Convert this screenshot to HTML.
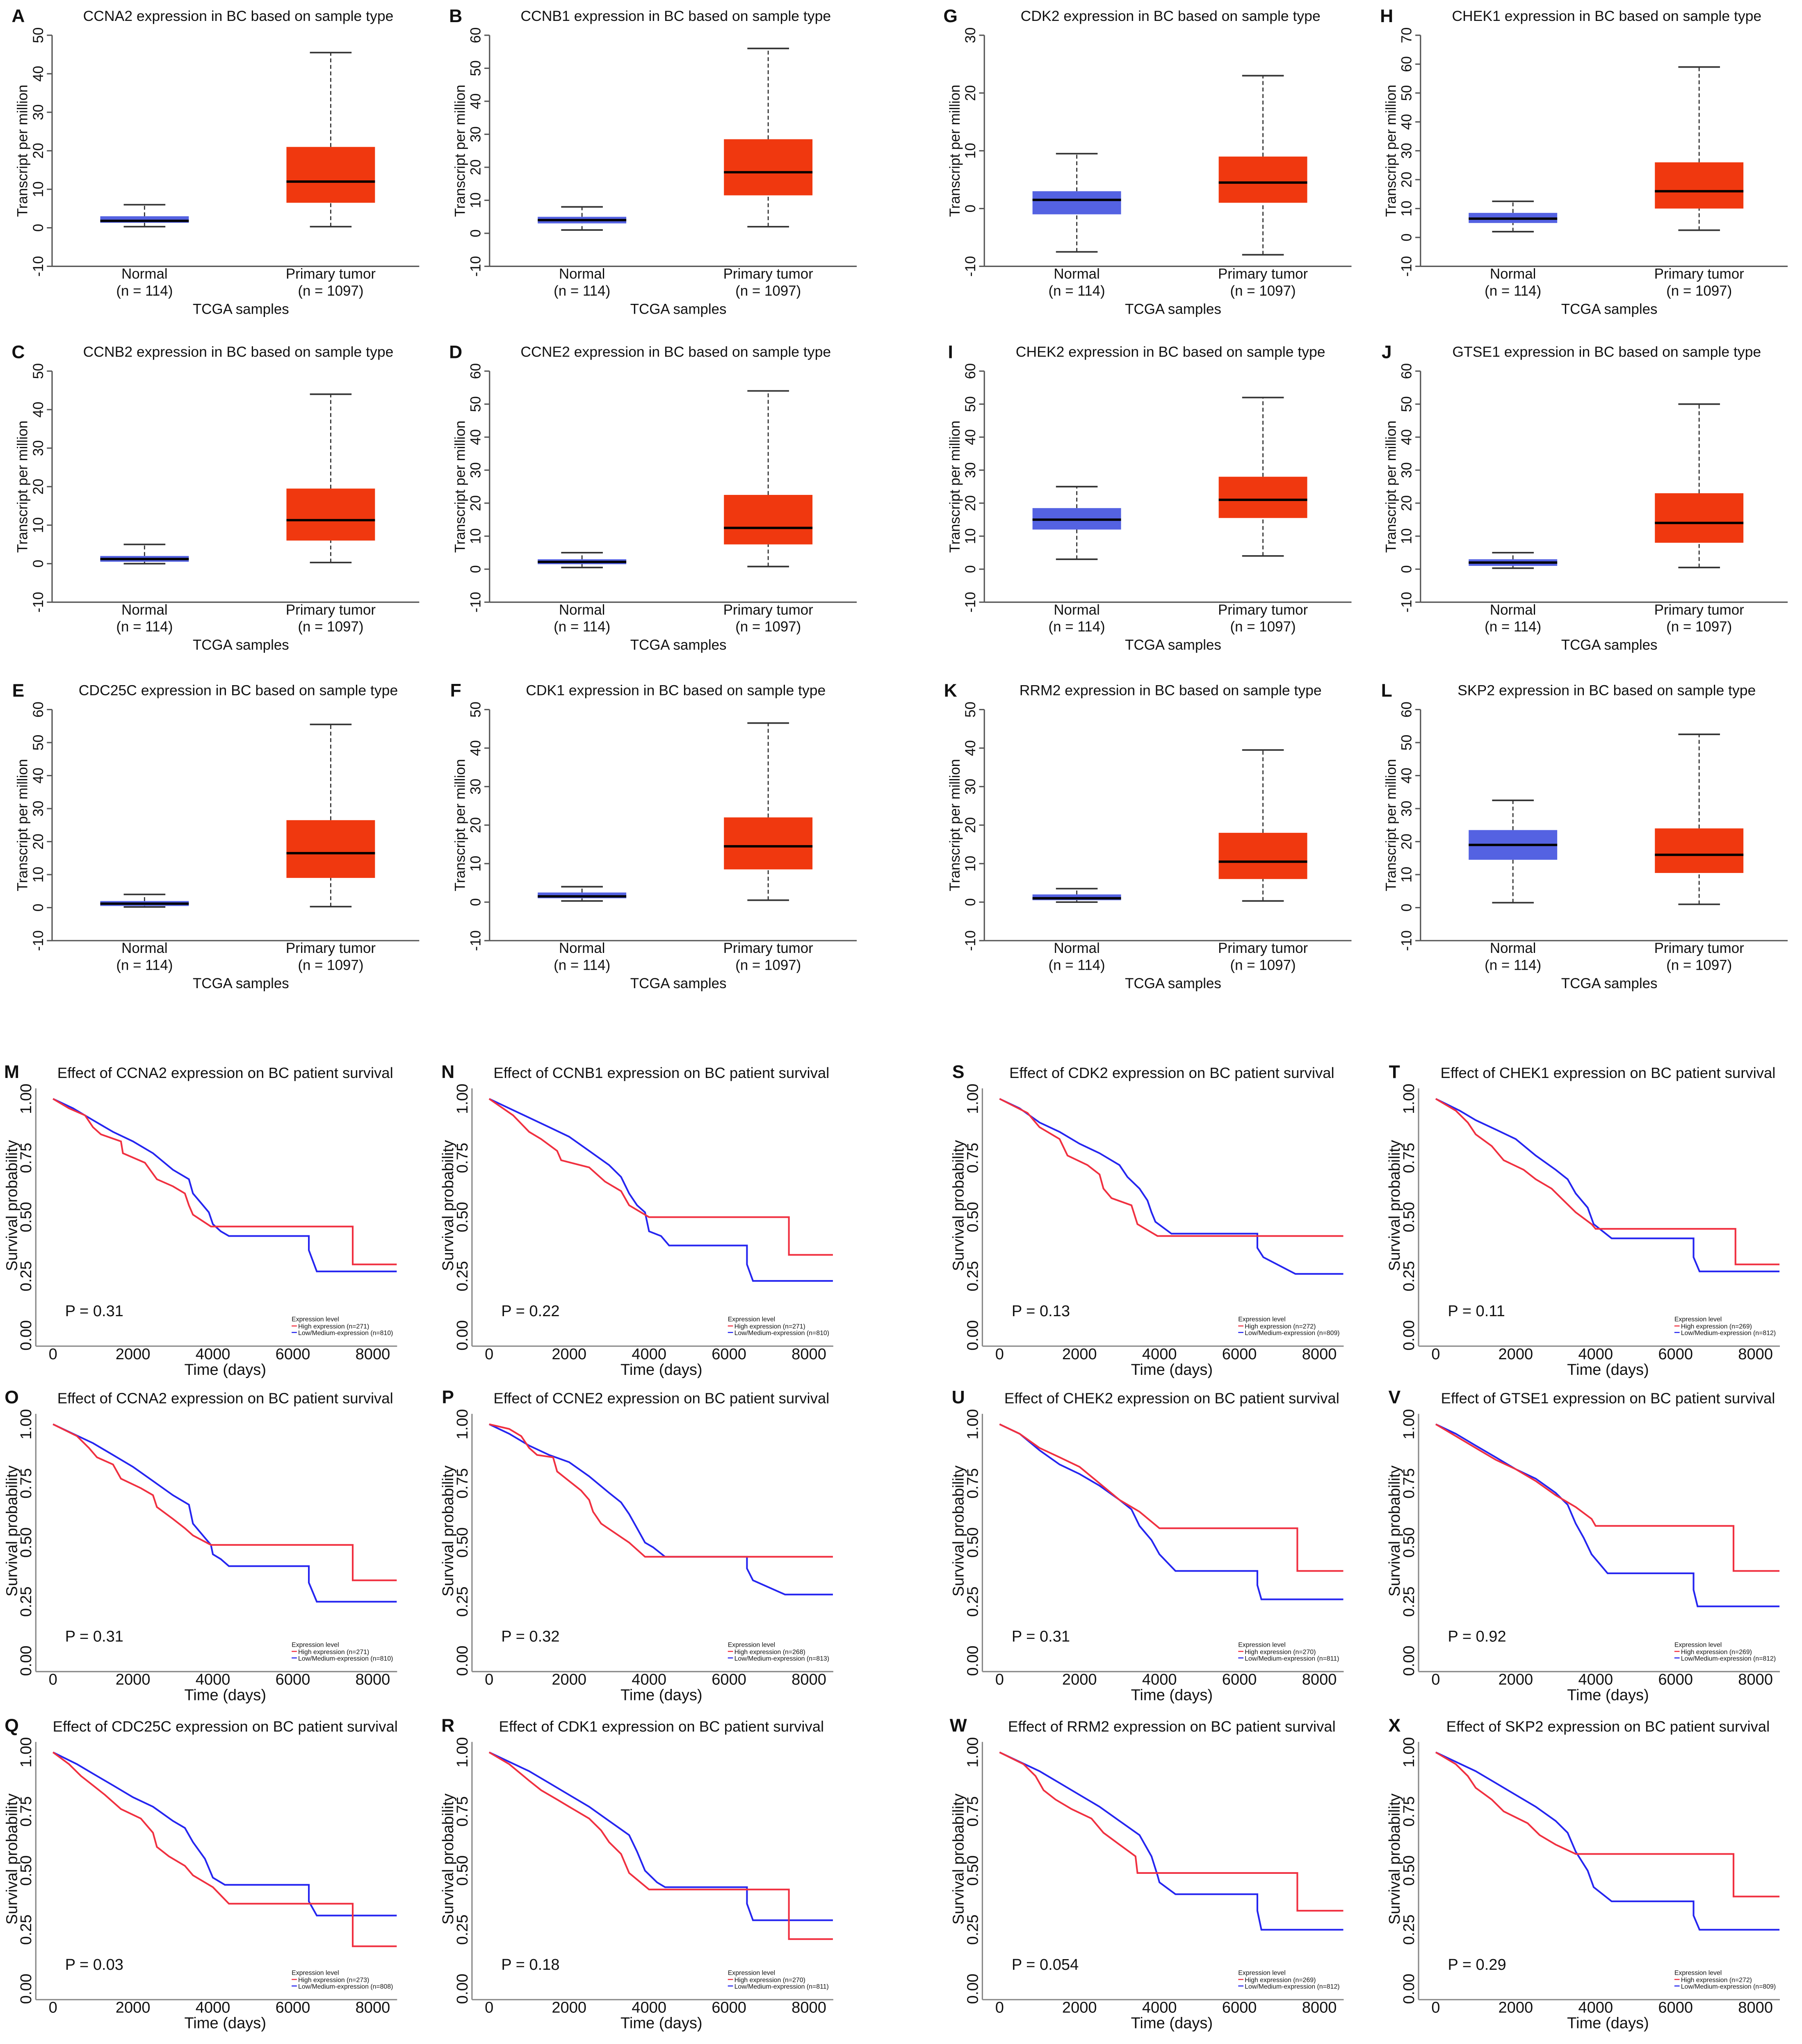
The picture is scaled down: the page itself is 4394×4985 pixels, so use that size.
<!DOCTYPE html>
<html><head><meta charset="utf-8"><style>
html,body{margin:0;padding:0;background:#fff;}
svg{display:block;}
text{font-family:"Liberation Sans",sans-serif;fill:#111;}
</style></head><body>
<svg id="fig" xmlns="http://www.w3.org/2000/svg" width="4394" height="4985" viewBox="0 0 1384 1570">
<rect width="1384" height="1570" fill="#fff"/>
</svg>
<script>
// ===== Box plot data (order: A,B,G,H / C,D,I,J / E,F,K,L) =====
const boxLetters = ["A","B","G","H","C","D","I","J","E","F","K","L"];
const boxGenes = ["CCNA2","CCNB1","CDK2","CHEK1","CCNB2","CCNE2","CHEK2","GTSE1","CDC25C","CDK1","RRM2","SKP2"];
const boxYMax = [50,60,30,70,50,60,60,60,60,50,50,60];
// [whiskerLow, q1, median, q3, whiskerHigh]
const boxNormal = [[0.3,1.3,1.8,3,6],[1,3,4,5,8],[-7.5,-1,1.5,3,9.5],[2,5,6.5,8.5,12.5],
  [0,0.5,1.2,2,5],[0.5,1.5,2.2,3,5],[3,12,15,18.5,25],[0.3,1,2,3,5],
  [0.2,0.5,1.2,2,4],[0.3,1,1.5,2.5,4],[0,0.5,1,2,3.5],[1.5,14.5,19,23.5,32.5]];
const boxTumor = [[0.3,6.5,12,21,45.5],[2,11.5,18.5,28.5,56],[-8,1,4.5,9,23],[2.5,10,16,26,59],
  [0.3,6,11.3,19.5,44],[0.8,7.5,12.5,22.5,54],[4,15.5,21,28,52],[0.5,8,14,23,50],
  [0.3,9,16.5,26.5,55.5],[0.5,8.5,14.5,22,46.5],[0.3,6,10.5,18,39.5],[1,10.5,16,24,52.5]];
const boxGroups = ["Normal","Primary tumor"];
const boxGroupN = ["(n = 114)","(n = 1097)"];

// ===== Survival data (order: M,N,S,T / O,P,U,V / Q,R,W,X) =====
const survLetters = ["M","N","S","T","O","P","U","V","Q","R","W","X"];
const survGenes = ["CCNA2","CCNB1","CDK2","CHEK1","CCNA2","CCNE2","CHEK2","GTSE1","CDC25C","CDK1","RRM2","SKP2"];
const survP = ["0.31","0.22","0.13","0.11","0.31","0.32","0.31","0.92","0.03","0.18","0.054","0.29"];
const survHighN = [271,271,272,269,271,268,270,269,273,270,269,272];
const survLowN = [810,810,809,812,810,813,811,812,808,811,812,809];
const survXTicks = [0,2000,4000,6000,8000];
const survYTicks = ["0.00","0.25","0.50","0.75","1.00"];
const survEnd = 8600;
const survHighT = [
 [0,400,800,1000,1200,1700,1750,2300,2600,3000,3300,3400,3500,3950,7500],
 [0,600,1000,1300,1700,1800,2500,2900,3300,3500,4000,7500],
 [0,700,1000,1500,1700,2200,2500,2600,2800,3300,3450,3950],
 [0,500,800,1000,1400,1700,2200,2500,2900,3200,3500,3900,4000,7500],
 [0,600,900,1100,1500,1700,2200,2500,2600,3000,3300,3500,3950,7500],
 [0,500,800,1000,1200,1600,1700,2000,2300,2500,2600,2800,3500,3900],
 [0,500,1000,1500,2000,2500,3000,3500,4000,7450],
 [0,500,1000,1500,2000,2500,3000,3500,3900,4000,7450],
 [0,400,700,1000,1300,1700,2200,2500,2600,2900,3300,3500,4000,4400,7500],
 [0,500,1000,1300,1700,2000,2500,2800,3000,3300,3500,4000,7500],
 [0,600,900,1100,1400,1800,2300,2600,3000,3400,3450,7450],
 [0,500,800,1000,1400,1700,2300,2600,3000,3500,7450]];
const survHighS = [
 [1,0.96,0.93,0.88,0.85,0.82,0.77,0.73,0.66,0.63,0.60,0.55,0.51,0.46,0.30],
 [1,0.93,0.86,0.83,0.78,0.74,0.71,0.65,0.61,0.55,0.50,0.34],
 [1,0.94,0.88,0.83,0.76,0.72,0.68,0.62,0.58,0.55,0.47,0.42],
 [1,0.95,0.90,0.85,0.80,0.74,0.70,0.66,0.62,0.57,0.52,0.47,0.45,0.30],
 [1,0.95,0.90,0.86,0.83,0.77,0.73,0.70,0.65,0.60,0.56,0.53,0.49,0.34],
 [1,0.98,0.95,0.90,0.87,0.86,0.80,0.76,0.72,0.68,0.63,0.58,0.50,0.44],
 [1,0.96,0.90,0.86,0.82,0.75,0.68,0.63,0.56,0.38],
 [1,0.95,0.90,0.85,0.81,0.76,0.70,0.65,0.60,0.57,0.38],
 [1,0.95,0.90,0.86,0.82,0.76,0.72,0.66,0.60,0.56,0.52,0.48,0.43,0.36,0.18],
 [1,0.95,0.88,0.84,0.80,0.77,0.72,0.67,0.62,0.57,0.49,0.42,0.21],
 [1,0.95,0.90,0.84,0.80,0.76,0.72,0.66,0.61,0.56,0.49,0.33],
 [1,0.95,0.90,0.85,0.80,0.75,0.70,0.65,0.61,0.57,0.39]];
const survLowT = [
 [0,500,1000,1500,2000,2500,3000,3400,3500,3700,3900,4000,4200,4400,6400,6600],
 [0,500,1000,1500,2000,2500,3000,3300,3500,3700,3900,4000,4300,4500,6450,6600],
 [0,500,1000,1500,2000,2500,3000,3200,3500,3700,3800,3900,4300,6450,6600,7400],
 [0,600,1000,1500,2000,2500,3000,3300,3500,3800,3950,4400,6450,6600],
 [0,500,1000,1500,2000,2500,3000,3400,3500,3700,3950,4000,4200,4400,6400,6600],
 [0,500,1000,1500,2000,2500,3000,3300,3500,3700,3900,4100,4400,6450,6600,7400],
 [0,500,1000,1500,2000,2500,3000,3300,3500,3800,4000,4400,6450,6550],
 [0,500,1000,1500,2000,2500,3000,3300,3500,3700,3900,4000,4300,6450,6550],
 [0,600,1000,1500,2000,2500,3000,3300,3500,3800,4000,4300,6400,6600],
 [0,500,1000,1500,2000,2500,3000,3500,3700,3900,4200,4400,6450,6600],
 [0,500,1000,1500,2000,2500,3000,3500,3800,3950,4000,4400,6450,6550],
 [0,500,1000,1500,2000,2500,3000,3300,3500,3800,3950,4400,6450,6600]];
const survLowS = [
 [1,0.96,0.91,0.86,0.82,0.77,0.70,0.66,0.60,0.56,0.52,0.47,0.44,0.42,0.36,0.27],
 [1,0.96,0.92,0.88,0.84,0.78,0.72,0.67,0.60,0.55,0.52,0.44,0.42,0.38,0.30,0.23],
 [1,0.96,0.90,0.86,0.81,0.77,0.72,0.67,0.62,0.57,0.52,0.48,0.43,0.37,0.33,0.26],
 [1,0.95,0.91,0.87,0.83,0.76,0.70,0.66,0.60,0.54,0.47,0.41,0.33,0.27],
 [1,0.96,0.92,0.87,0.82,0.76,0.70,0.66,0.58,0.54,0.49,0.45,0.43,0.40,0.33,0.25],
 [1,0.96,0.91,0.87,0.84,0.78,0.71,0.67,0.62,0.56,0.50,0.48,0.44,0.39,0.34,0.28],
 [1,0.96,0.89,0.83,0.79,0.74,0.68,0.64,0.57,0.51,0.45,0.38,0.32,0.26],
 [1,0.96,0.91,0.86,0.81,0.77,0.71,0.66,0.58,0.52,0.45,0.43,0.37,0.30,0.23],
 [1,0.95,0.91,0.86,0.81,0.77,0.71,0.68,0.62,0.55,0.47,0.44,0.37,0.31],
 [1,0.96,0.92,0.87,0.82,0.77,0.71,0.65,0.58,0.50,0.45,0.43,0.36,0.29],
 [1,0.96,0.92,0.87,0.82,0.77,0.71,0.65,0.56,0.48,0.45,0.40,0.33,0.25],
 [1,0.96,0.92,0.87,0.82,0.77,0.71,0.66,0.58,0.50,0.43,0.37,0.31,0.25]];

const NS = "http://www.w3.org/2000/svg";
const svg = document.getElementById("fig");
function el(tag, attrs, parent, txt){
  const e = document.createElementNS(NS, tag);
  for (const k in attrs) e.setAttribute(k, attrs[k]);
  if (txt !== undefined) e.textContent = txt;
  (parent || svg).appendChild(e);
  return e;
}

// ---------- Box plots ----------
const boxColDx = [0,336,716,1051];
const boxRowDy = [0,258,518];
boxGenes.forEach((gene, i) => {
  const ox = boxColDx[i % 4], oy = boxRowDy[Math.floor(i / 4)];
  const g = el("g", {transform:`translate(${ox},${oy})`});
  
  
  const ymax = boxYMax[i], yTop = 27, yBot = 204.5, axX = 40;
  const Y = v => yBot - (v + 10) / (ymax + 10) * (yBot - yTop);
  const lt = el("text", {x:14, y:17, "font-size":14, "font-weight":"bold", "text-anchor":"middle"}, g, boxLetters[i]);
  
  
  const tt = el("text", {x:183, y:16, "font-size":11.2, "text-anchor":"middle"}, g, gene + " expression in BC based on sample type");
  
  
  const ya = el("line", {x1:axX, y1:Y(ymax), x2:axX, y2:yBot, stroke:"#555", "stroke-width":1}, g);
  
  
  const xa = el("line", {x1:axX, y1:yBot, x2:322, y2:yBot, stroke:"#555", "stroke-width":1}, g);
  
  
  for (let v = -10; v <= ymax; v += 10) {
    const y = Y(v);
    el("line", {x1:axX-4, y1:y, x2:axX, y2:y, stroke:"#555", "stroke-width":1}, g);
    const t = el("text", {x:0, y:0, "font-size":11, "text-anchor":"middle", transform:`translate(33,${y}) rotate(-90)`}, g, String(v));
    
    
  }
  const yl = el("text", {x:0, y:0, "font-size":11, "text-anchor":"middle", transform:`translate(21,${Y((ymax-10)/2)}) rotate(-90)`}, g, "Transcript per million");
  
  
  const centers = [111, 254];
  const sets = [boxNormal[i], boxTumor[i]];
  const fills = ["#5462e2", "#f0380f"];
  sets.forEach((d, k) => {
    const cx = centers[k];
    const bg = el("g", {}, g);
    
    
    el("line", {x1:cx, y1:Y(d[0]), x2:cx, y2:Y(d[1]), stroke:"#333", "stroke-dasharray":"3,2", "stroke-width":0.9}, bg);
    el("line", {x1:cx, y1:Y(d[3]), x2:cx, y2:Y(d[4]), stroke:"#333", "stroke-dasharray":"3,2", "stroke-width":0.9}, bg);
    el("line", {x1:cx-16, y1:Y(d[0]), x2:cx+16, y2:Y(d[0]), stroke:"#333", "stroke-width":1.2}, bg);
    el("line", {x1:cx-16, y1:Y(d[4]), x2:cx+16, y2:Y(d[4]), stroke:"#333", "stroke-width":1.2}, bg);
    el("rect", {x:cx-34, y:Y(d[3]), width:68, height:Math.max(1.5, Y(d[1]) - Y(d[3])), fill:fills[k]}, bg);
    el("line", {x1:cx-34, y1:Y(d[2]), x2:cx+34, y2:Y(d[2]), stroke:"#000", "stroke-width":1.8}, bg);
    const l1 = el("text", {x:cx, y:214, "font-size":11, "text-anchor":"middle"}, g, boxGroups[k]);
    
    
    const l2 = el("text", {x:cx, y:227, "font-size":11, "text-anchor":"middle"}, g, boxGroupN[k]);
    
    
  });
  const xt = el("text", {x:185, y:241, "font-size":11, "text-anchor":"middle"}, g, "TCGA samples");
  
  
});

// ---------- Survival plots ----------
const survColDx = [0,335,727,1062];
const survRowDy = [0,250,502];
survGenes.forEach((gene, i) => {
  const ox = survColDx[i % 4], oy = survRowDy[Math.floor(i / 4)];
  const g = el("g", {transform:`translate(${ox},${oy})`});
  
  
  const X = t => 40.7 + t * 0.03070;
  const Y = s => 1025.7 - s * 181.7;
  const lt = el("text", {x:9, y:828, "font-size":14, "font-weight":"bold", "text-anchor":"middle"}, g, survLetters[i]);
  
  
  const tt = el("text", {x:173, y:828, "font-size":11.5, "text-anchor":"middle"}, g, "Effect of " + gene + " expression on BC patient survival");
  
  
  const ya = el("line", {x1:27.5, y1:836, x2:27.5, y2:1034, stroke:"#888", "stroke-width":1}, g);
  
  
  const xa = el("line", {x1:27.5, y1:1034, x2:305, y2:1034, stroke:"#888", "stroke-width":1}, g);
  
  
  survXTicks.forEach(t => {
    const tl = el("text", {x:X(t), y:1044, "font-size":12, "text-anchor":"middle"}, g, String(t));
    
    
  });
  survYTicks.forEach(s => {
    const tl = el("text", {x:0, y:0, "font-size":12, "text-anchor":"middle", transform:`translate(24,${Y(parseFloat(s))}) rotate(-90)`}, g, s);
    
    
  });
  const yl = el("text", {x:0, y:0, "font-size":12, "text-anchor":"middle", transform:`translate(13,926) rotate(-90)`}, g, "Survival probability");
  
  
  const xl = el("text", {x:173, y:1056, "font-size":12, "text-anchor":"middle"}, g, "Time (days)");
  
  
  const pl = el("text", {x:50, y:1011, "font-size":12}, g, "P = " + survP[i]);
  
  
  function curvePath(T, S){
    let d = `M${X(T[0]).toFixed(1)},${Y(S[0]).toFixed(1)}`;
    for (let k = 1; k < T.length; k++) {
      if (T[k] - T[k-1] > 800) {
        d += `H${X(T[k]).toFixed(1)}V${Y(S[k]).toFixed(1)}`;
      } else {
        d += `L${X(T[k]).toFixed(1)},${Y(S[k]).toFixed(1)}`;
      }
    }
    d += `H${X(survEnd).toFixed(1)}`;
    return d;
  }
  const lo = el("path", {d:curvePath(survLowT[i], survLowS[i]), fill:"none", stroke:"#2525f0", "stroke-width":1.3}, g);
  
  
  const hi = el("path", {d:curvePath(survHighT[i], survHighS[i]), fill:"none", stroke:"#f03040", "stroke-width":1.3}, g);
  
  
  const lg = el("g", {}, g);
  
  
  el("text", {x:224, y:1015, "font-size":5}, lg, "Expression level");
  el("line", {x1:224, y1:1018.5, x2:228, y2:1018.5, stroke:"#f03040", "stroke-width":0.8}, lg);
  el("text", {x:229, y:1020.5, "font-size":5}, lg, "High expression (n=" + survHighN[i] + ")");
  el("line", {x1:224, y1:1023.5, x2:228, y2:1023.5, stroke:"#2525f0", "stroke-width":0.8}, lg);
  el("text", {x:229, y:1025.5, "font-size":5}, lg, "Low/Medium-expression (n=" + survLowN[i] + ")");
});
</script>
</body></html>
